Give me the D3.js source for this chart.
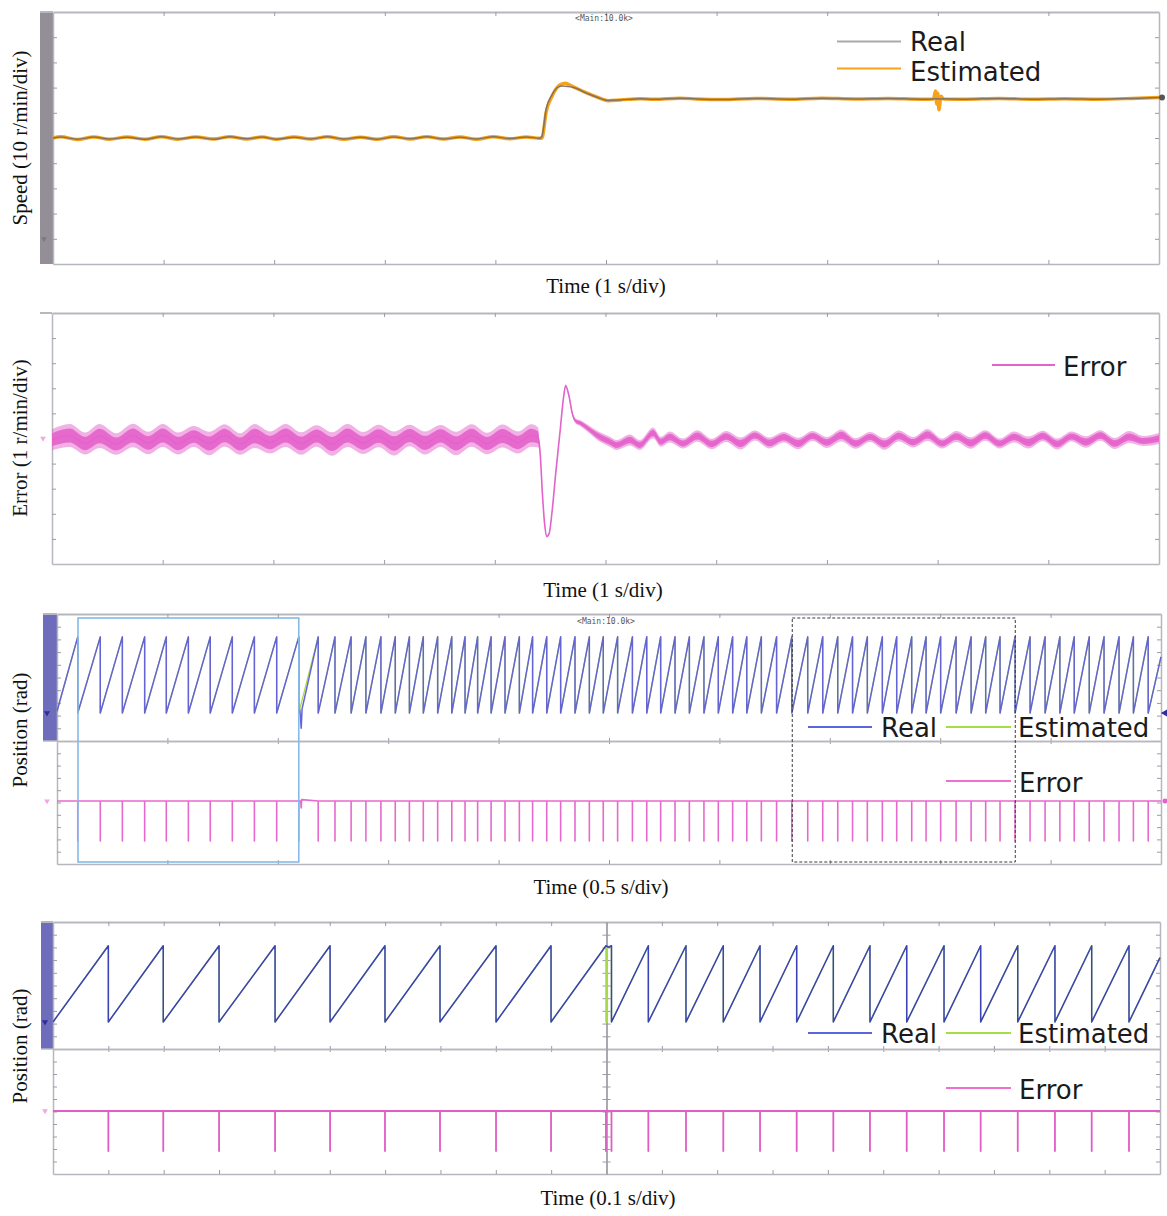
<!DOCTYPE html>
<html><head><meta charset="utf-8">
<script src="https://cdn.jsdelivr.net/npm/d3@7"></script>
<style>body{margin:0;background:#fff}svg{display:block}</style>
</head><body>
<svg id="c" width="1167" height="1216"></svg>
<script>
const TWO_PI = 2 * Math.PI;

// ---------- Panel 1: speed (r/min) vs time (s) ----------
const speedT = [0,0.07,0.22,0.37,0.51,0.67,0.83,0.98,1.13,1.29,1.45,1.60,1.75,1.89,2.02,2.18,2.33,2.48,2.63,2.78,2.93,3.08,3.23,3.38,3.53,3.68,3.83,3.98,4.13,4.28,4.40,
  4.42,4.46,4.51,4.57,4.61,4.63,4.70,4.83,4.92,5.02,5.13,5.31,5.43,5.67,5.82,
  6.05,6.35,6.65,6.95,7.25,7.55,7.85,7.96,7.98,7.99,8.00,8.01,8.03,8.05,8.25,8.55,8.85,9.15,9.45,9.75,10.0];
const speedReal = [40.0,40.4,39.5,40.4,39.6,40.3,39.5,40.5,39.6,40.4,39.5,40.5,39.7,40.4,39.5,40.3,39.6,40.5,39.6,40.3,39.5,40.4,39.7,40.5,39.6,40.3,39.6,40.5,39.8,40.4,39.9,
  40.6,51.8,57.0,60.3,60.6,60.5,60.1,57.7,56.2,54.9,55.1,55.6,55.4,55.8,55.5,
  55.3,55.7,55.4,55.8,55.5,55.7,55.4,55.5,55.6,55.5,55.6,55.5,55.5,55.6,55.4,55.7,55.4,55.6,55.4,55.7,56.1];
const speedEst = [40.0,40.5,39.4,40.4,39.5,40.4,39.5,40.5,39.5,40.4,39.6,40.5,39.6,40.4,39.5,40.4,39.6,40.5,39.5,40.3,39.5,40.5,39.6,40.5,39.6,40.4,39.5,40.5,39.7,40.4,39.9,
  39.9,50.5,56.4,60.6,61.6,61.7,60.4,57.8,56.2,54.8,55.1,55.6,55.4,55.8,55.5,
  55.3,55.7,55.4,55.8,55.5,55.7,55.4,55.5,58.7,53.5,57.8,51.2,56.6,55.5,55.4,55.7,55.4,55.6,55.4,55.7,56.1];

// ---------- Panel 2: speed error (r/min): centre and half-width of the noisy band ----------
const errT = [0,0.16,0.30,0.43,0.58,0.73,0.87,1.00,1.14,1.28,1.42,1.56,1.70,1.83,1.97,2.11,2.25,2.39,2.53,2.67,2.81,2.95,3.09,3.23,3.37,3.51,3.65,3.79,3.93,4.07,4.21,4.33,4.39,
  4.41,4.43,4.45,4.47,4.49,4.52,4.55,4.59,4.62,4.64,4.67,4.70,4.73,4.77,4.86,4.92,5.04,5.10,5.22,5.31,5.43,5.50,5.58,
  5.70,5.83,5.96,6.09,6.22,6.35,6.48,6.61,6.74,6.87,7.00,7.13,7.26,7.39,7.52,7.65,7.78,7.91,8.04,8.17,8.30,8.43,8.56,8.69,8.82,8.95,9.08,9.21,9.34,9.47,9.60,9.73,9.86,10.0];
const errMid = [-0.05,0.12,-0.2,0.1,-0.22,0.12,-0.18,0.12,-0.2,0.08,-0.2,0.12,-0.22,0.1,-0.16,0.12,-0.2,0.1,-0.22,0.12,-0.18,0.1,-0.2,0.12,-0.18,0.1,-0.2,0.12,-0.2,0.1,-0.16,0.12,0.05,
  -0.6,-2.2,-3.4,-3.9,-3.8,-2.8,-1.4,0.3,1.6,2.1,1.7,1.0,0.7,0.62,0.34,0.14,-0.13,-0.26,-0.06,-0.26,0.22,-0.13,0.06,
  -0.2,0.1,-0.22,0.08,-0.2,0.12,-0.18,0.05,-0.2,0.1,-0.16,0.12,-0.2,0.06,-0.22,0.1,-0.15,0.14,-0.2,0.08,-0.18,0.12,-0.2,0.06,-0.16,0.1,-0.22,0.08,-0.14,0.12,-0.2,0.06,-0.1,0.0];
const errHalf = [0.42,0.46,0.44,0.48,0.43,0.47,0.45,0.46,0.44,0.42,0.47,0.45,0.43,0.48,0.44,0.46,0.45,0.43,0.47,0.46,0.44,0.45,0.48,0.43,0.46,0.44,0.47,0.45,0.43,0.46,0.44,0.45,0.40,
  0.05,0.05,0.05,0.05,0.05,0.05,0.05,0.05,0.05,0.06,0.06,0.08,0.10,0.12,0.15,0.18,0.20,0.20,0.22,0.20,0.22,0.20,0.22,
  0.20,0.23,0.21,0.22,0.24,0.20,0.22,0.21,0.23,0.20,0.22,0.24,0.21,0.20,0.23,0.22,0.21,0.24,0.20,0.22,0.23,0.21,0.20,0.22,0.24,0.21,0.22,0.20,0.23,0.21,0.22,0.24,0.20,0.22];

// ---------- Panel 3: position (rad), 0.5 s/div; wrap instants (s) ----------
const pos3WrapA = [0.094,0.196,0.296,0.397,0.495,0.595,0.694,0.794,0.894,0.995,1.095];
const pos3GlitchT = [1.100,1.106,1.110];
const pos3GlitchV = [0.25,-1.25,0.35];
const pos3WrapB = [1.183,1.259,1.332,1.399,1.467,1.532,1.596,1.659,1.724,1.788,1.848,1.905,1.966,2.029,2.094,2.154,2.218,2.281,2.346,2.411,2.474,2.539,2.606,2.671,2.734,2.799,2.864,2.930,2.995,3.060,3.124,3.190,3.259,3.328,3.400,3.468,3.536,3.603,3.670,3.738,3.803,3.871,3.936,4.002,4.072,4.140,4.206,4.271,4.339,4.407,4.475,4.542,4.607,4.675,4.742,4.810,4.875,4.942];
const pos3Start = 0.15, pos3End = 4.63;
const err3Spike = -3.4;
const err3GlitchT = [1.104,1.106,1.108];
const err3GlitchV = [0,-0.6,0.12];
const zoomBoxesT = [[0.095,1.095],[3.33,4.34]];

// ---------- Panel 4: position (rad), 0.1 s/div ----------
const pos4WrapA = [0.0500,0.0996,0.1500,0.2006,0.2503,0.2999,0.3496,0.4002,0.4499];
const pos4RealMidT = [0.4995,0.5020,0.5045];
const pos4RealMidV = [TWO_PI,6.15,TWO_PI];
const pos4EstMidT = [0.4995,0.4995,0.5008,0.5008,0.5045];
const pos4EstMidV = [TWO_PI,0,0,6.2,TWO_PI];
const pos4WrapB = [0.5378,0.5718,0.6055,0.6387,0.6718,0.7049,0.7380,0.7712,0.8049,0.8380,0.8715,0.9051,0.9383,0.9720];
const pos4Start = 0.0, pos4End = 5.30;
const err4Spike = -3.35;
const err4MidSpikes = [0.4995,0.5045];

// ---------- labels ----------
const yTitles = ["Speed (10 r/min/div)","Error (1 r/min/div)","Position (rad)","Position (rad)"];
const xTitles = ["Time (1 s/div)","Time (1 s/div)","Time (0.5 s/div)","Time (0.1 s/div)"];
const scopeTag = "<Main:10.0k>";

// ================= drawing =================
const svg = d3.select('#c');
const SERIF = '"Liberation Serif","Times New Roman",serif';
const SANS = '"DejaVu Sans","Noto Sans",sans-serif';
const FRAME = '#b7b7c0', TICK = '#9b9ba6';
const C_ORANGE = '#f7a21b', C_GREY = '#6f6a6a', C_PINK = '#e463cb';
const C_GREEN = '#a6dc44';
const zip = (a, b) => a.slice(0, Math.min(a.length, b.length)).map((v, i) => [v, b[i]]);

function axisAt(fn, scale, vals, size, tx, ty, domainW = 1.5, domainC = FRAME) {
  const a = fn(scale).tickValues(vals).tickSize(size).tickSizeOuter(0).tickFormat('');
  const g = svg.append('g').attr('transform', `translate(${tx},${ty})`).call(a);
  g.select('.domain').attr('stroke', domainC).attr('stroke-width', domainW);
  g.selectAll('.tick line').attr('stroke', TICK).attr('stroke-width', 1);
  return g;
}
function divScale(yb, yt) { return d3.scaleLinear().domain([0, 10]).range([yb, yt]); }
function hline(x0, x1, y, c = FRAME, w = 1.5) {
  svg.append('line').attr('x1', x0).attr('x2', x1).attr('y1', y).attr('y2', y).attr('stroke', c).attr('stroke-width', w);
}
function path(data, x, y, color, w, op = 1, curve = d3.curveLinear) {
  svg.append('path').datum(data)
    .attr('d', d3.line().x(d => x(d[0])).y(d => y(d[1])).curve(curve))
    .attr('fill', 'none').attr('stroke', color).attr('stroke-width', w)
    .attr('stroke-opacity', op).attr('stroke-linejoin', 'round');
}
function legendItem(x0, x1, y, color, label, tx, baseline) {
  svg.append('line').attr('x1', x0).attr('x2', x1).attr('y1', y).attr('y2', y)
    .attr('stroke', color).attr('stroke-width', 1.8);
  svg.append('text').attr('x', tx).attr('y', baseline).text(label)
    .attr('font-family', SANS).attr('font-size', 26).attr('fill', '#1b1b1b');
}
function xTitle(txt, cx, base) {
  svg.append('text').attr('x', cx).attr('y', base).attr('text-anchor', 'middle')
    .attr('font-family', SERIF).attr('font-size', 21).attr('fill', '#111').text(txt);
}
function yTitle(txt, bx, cy) {
  svg.append('text').attr('transform', `translate(${bx},${cy}) rotate(-90)`).attr('text-anchor', 'middle')
    .attr('font-family', SERIF).attr('font-size', 21).attr('fill', '#111').text(txt);
}
function marker(x, y, color, rot = 180, size = 22) {
  svg.append('path').attr('d', d3.symbol(d3.symbolTriangle, size)())
    .attr('transform', `translate(${x},${y}) rotate(${rot})`).attr('fill', color);
}
function tag(x, y) {
  svg.append('text').attr('x', x).attr('y', y).attr('text-anchor', 'middle')
    .attr('font-family', '"DejaVu Sans Mono",monospace').attr('font-size', 8).attr('fill', '#555').text(scopeTag);
}
const ticks9 = d3.range(1, 10);

// ---------- Panel 1 ----------
{
  const L = { x0: 53, x1: 1159, y0: 12, y1: 264 };
  const x = d3.scaleLinear().domain([0, 10]).range([L.x0, L.x1]);
  const y = d3.scaleLinear().domain([-10, 90]).range([L.y1, L.y0]);
  const dv = divScale(L.y1, L.y0);
  svg.append('rect').attr('x', 40).attr('y', L.y0).attr('width', L.x0 - 40).attr('height', L.y1 - L.y0).attr('fill', '#948f97');
  axisAt(d3.axisBottom, x, ticks9, -4, 0, L.y1);
  axisAt(d3.axisTop, x, ticks9, -4, 0, L.y0, 2);
  hline(40, L.x0, L.y0, FRAME, 2);
  axisAt(d3.axisLeft, dv, ticks9, -4, L.x0, 0);
  axisAt(d3.axisRight, dv, ticks9, -4, L.x1, 0);
  tag(604, 21);
  path(zip(speedT, speedEst), x, y, C_ORANGE, 3.4, 1, d3.curveMonotoneX);
  path(zip(speedT, speedReal), x, y, C_GREY, 1.5, 0.85, d3.curveMonotoneX);
  marker(44, y(0), '#7d7880', 180, 14);
  svg.append('circle').attr('cx', L.x1 + 3).attr('cy', y(speedReal[speedReal.length - 1])).attr('r', 3).attr('fill', '#555');
  legendItem(837, 901, 41.5, '#a9a9a9', 'Real', 910, 50.5);
  legendItem(837, 901, 68.5, C_ORANGE, 'Estimated', 910, 81);
  xTitle(xTitles[0], 606, 293);
  yTitle(yTitles[0], 27, 138);
}

// ---------- Panel 2 ----------
{
  const L = { x0: 52, x1: 1159, y0: 313, y1: 564 };
  const x = d3.scaleLinear().domain([0, 10]).range([L.x0, L.x1]);
  const y = d3.scaleLinear().domain([-5, 5]).range([L.y1, L.y0]);
  const dv = divScale(L.y1, L.y0);
  axisAt(d3.axisBottom, x, ticks9, -4, 0, L.y1);
  axisAt(d3.axisTop, x, ticks9, -4, 0, L.y0, 2);
  hline(40, L.x0, L.y0, FRAME, 2);
  axisAt(d3.axisLeft, dv, ticks9, -4, L.x0, 0);
  axisAt(d3.axisRight, dv, ticks9, -4, L.x1, 0);
  const n = Math.min(errT.length, errMid.length, errHalf.length);
  const band = d3.range(n).map(i => ({ t: errT[i], m: errMid[i], h: errHalf[i] }));
  const area = k => d3.area().x(d => x(d.t)).y0(d => y(d.m - d.h * k)).y1(d => y(d.m + d.h * k)).curve(d3.curveMonotoneX);
  svg.append('path').datum(band).attr('d', area(1)).attr('fill', C_PINK).attr('fill-opacity', 0.5);
  svg.append('path').datum(band).attr('d', area(0.6)).attr('fill', C_PINK).attr('fill-opacity', 0.9);
  path(band.map(d => [d.t, d.m]), x, y, C_PINK, 1.6, 1, d3.curveMonotoneX);
  marker(43, y(0), '#f2a6e2', 180, 14);
  legendItem(992, 1055, 365, C_PINK, 'Error', 1063, 376);
  xTitle(xTitles[1], 603, 597);
  yTitle(yTitles[1], 27, 438);
}

const saw = wraps => wraps.flatMap(t => [[t, TWO_PI], [t, 0]]);
const spikes = (wraps, d) => wraps.flatMap(t => [[t, 0], [t, d], [t, 0]]);

// ---------- Panel 3 ----------
{
  const L = { x0: 57, x1: 1161, y0: 614, ym: 741, y1: 864 };
  const x = d3.scaleLinear().domain([0, 5]).range([L.x0, L.x1]);
  const radPerDiv = TWO_PI / 6;
  const yP = d3.scaleLinear().domain([-2.2 * radPerDiv, 7.8 * radPerDiv]).range([L.ym, L.y0]);
  const yE = d3.scaleLinear().domain([-5.12 * radPerDiv, 4.88 * radPerDiv]).range([L.y1, L.ym]);
  const dvT = divScale(L.ym, L.y0), dvB = divScale(L.y1, L.ym);
  const xt = d3.range(0.5, 5, 0.5);
  svg.append('rect').attr('x', 43).attr('y', L.y0).attr('width', L.x0 - 43).attr('height', L.ym - L.y0).attr('fill', '#6d6dbb');
  axisAt(d3.axisBottom, x, xt, -4, 0, L.y1);
  axisAt(d3.axisTop, x, xt, -4, 0, L.y0, 2);
  hline(43, L.x0, L.y0, FRAME, 2);
  axisAt(d3.axisBottom, x, xt, 3, 0, L.ym);
  axisAt(d3.axisTop, x, xt, 3, 0, L.ym);
  hline(43, L.x0, L.ym, FRAME, 1.5);
  axisAt(d3.axisLeft, dvT, ticks9, -4, L.x0, 0);
  axisAt(d3.axisLeft, dvB, ticks9, -4, L.x0, 0);
  axisAt(d3.axisRight, dvT, ticks9, -4, L.x1, 0);
  axisAt(d3.axisRight, dvB, ticks9, -4, L.x1, 0);
  tag(606, 624);

  const est = [[0, pos3Start], ...saw(pos3WrapA), ...saw(pos3WrapB), [5, pos3End]];
  const real = [[0, pos3Start], ...saw(pos3WrapA), ...zip(pos3GlitchT, pos3GlitchV), ...saw(pos3WrapB), [5, pos3End]];
  path(est, x, yP, C_GREEN, 1.3);
  path(real, x, yP, '#6464d4', 1.5, 1);
  const err = [[0, 0], ...spikes(pos3WrapA, err3Spike), ...zip(err3GlitchT, err3GlitchV), ...spikes(pos3WrapB, err3Spike), [5, 0]];
  path(err, x, yE, '#e66acd', 1.6, 1);

  // highlighted windows
  svg.append('rect').attr('x', x(zoomBoxesT[0][0])).attr('y', 618).attr('width', x(zoomBoxesT[0][1]) - x(zoomBoxesT[0][0]))
    .attr('height', 244).attr('fill', 'none').attr('stroke', '#86b9e8').attr('stroke-width', 1.6);
  svg.append('rect').attr('x', x(zoomBoxesT[1][0])).attr('y', 618).attr('width', x(zoomBoxesT[1][1]) - x(zoomBoxesT[1][0]))
    .attr('height', 244).attr('fill', 'none').attr('stroke', '#3a3a3a').attr('stroke-width', 1).attr('stroke-dasharray', '3,2');

  marker(47, yP(0), '#2e2e9a', 180, 16);
  marker(47, yE(0), '#f2a6e2', 180, 14);
  marker(L.x1 + 4, yP(0), '#2e2e9a', 270, 22);
  svg.append('circle').attr('cx', L.x1 + 4).attr('cy', yE(0)).attr('r', 2.5).attr('fill', C_PINK);
  legendItem(808, 872, 727, '#5a66e0', 'Real', 881, 737);
  legendItem(946, 1011, 727, C_GREEN, 'Estimated', 1018, 737);
  legendItem(946, 1011, 781, '#f06fcf', 'Error', 1019, 792);
  xTitle(xTitles[2], 601, 894);
  yTitle(yTitles[2], 27, 730);
}

// ---------- Panel 4 ----------
{
  const L = { x0: 53, x1: 1160, y0: 922, ym: 1049, y1: 1174 };
  const x = d3.scaleLinear().domain([0, 1]).range([L.x0, L.x1]);
  const radPerDiv = TWO_PI / 6;
  const yP = d3.scaleLinear().domain([-2.13 * radPerDiv, 7.87 * radPerDiv]).range([L.ym, L.y0]);
  const yE = d3.scaleLinear().domain([-5.04 * radPerDiv, 4.96 * radPerDiv]).range([L.y1, L.ym]);
  const dvT = divScale(L.ym, L.y0), dvB = divScale(L.y1, L.ym);
  const xt = d3.range(1, 20).map(i => i * 0.05);
  svg.append('rect').attr('x', 41).attr('y', L.y0).attr('width', L.x0 - 41).attr('height', L.ym - L.y0).attr('fill', '#6d6dbb');
  axisAt(d3.axisBottom, x, xt, -4, 0, L.y1);
  axisAt(d3.axisTop, x, xt, -4, 0, L.y0, 2);
  hline(41, L.x0, L.y0, FRAME, 2);
  axisAt(d3.axisBottom, x, xt, 3, 0, L.ym);
  axisAt(d3.axisTop, x, xt, 3, 0, L.ym);
  hline(41, L.x0, L.ym, FRAME, 1.5);
  axisAt(d3.axisLeft, dvT, ticks9, -4, L.x0, 0);
  axisAt(d3.axisLeft, dvB, ticks9, -4, L.x0, 0);
  axisAt(d3.axisRight, dvT, ticks9, -4, L.x1, 0);
  axisAt(d3.axisRight, dvB, ticks9, -4, L.x1, 0);
  // centre graticule axis
  const cx = x(0.5);
  axisAt(d3.axisLeft, dvT, ticks9, 4, cx, 0, 1.5, '#a3a3ad');
  axisAt(d3.axisRight, dvT, ticks9, 4, cx, 0, 1.5, '#a3a3ad');
  axisAt(d3.axisLeft, dvB, ticks9, 4, cx, 0, 1.5, '#a3a3ad');
  axisAt(d3.axisRight, dvB, ticks9, 4, cx, 0, 1.5, '#a3a3ad');

  const est = [[0, pos4Start], ...saw(pos4WrapA), ...zip(pos4EstMidT, pos4EstMidV), [0.5045, 0], ...saw(pos4WrapB), [1, pos4End]];
  const real = [[0, pos4Start], ...saw(pos4WrapA), ...zip(pos4RealMidT, pos4RealMidV), [0.5045, 0], ...saw(pos4WrapB), [1, pos4End]];
  path(est, x, yP, C_GREEN, 1.4);
  path(real, x, yP, '#3b43b8', 1.5, 1);
  const err = [[0, 0], ...spikes(pos4WrapA, err4Spike), ...spikes(err4MidSpikes, err4Spike), ...spikes(pos4WrapB, err4Spike), [1, 0]];
  path(err, x, yE, '#e05cc6', 1.8, 1);

  marker(45, yP(0), '#2e2e9a', 180, 16);
  marker(45, yE(0), '#f2a6e2', 180, 14);
  legendItem(808, 872, 1033, '#5a66e0', 'Real', 881, 1043);
  legendItem(946, 1011, 1033, C_GREEN, 'Estimated', 1018, 1043);
  legendItem(946, 1011, 1088, '#f06fcf', 'Error', 1019, 1099);
  xTitle(xTitles[3], 608, 1205);
  yTitle(yTitles[3], 27, 1046);
}
</script>
</body></html>
